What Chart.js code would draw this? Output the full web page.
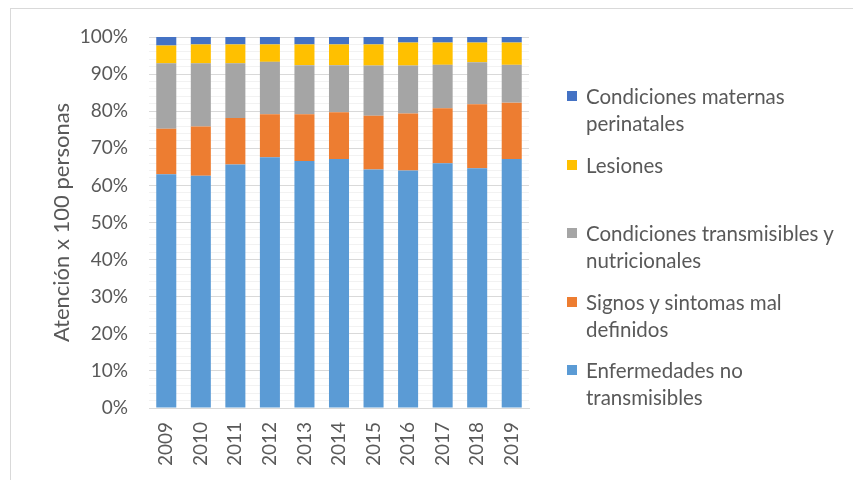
<!DOCTYPE html>
<html>
<head>
<meta charset="utf-8">
<script src="https://cdn.jsdelivr.net/npm/chart.js@4"></script>
<style>
  body { margin: 0; background: #fff; }
  #wrap { position: relative; width: 853px; height: 480px; overflow: hidden; }
  #frame { position: absolute; left: 10px; top: 8px; width: 860px; height: 480px; border: 1px solid #d9d9d9; box-sizing: border-box; }
  #legend { position: absolute; left: 567px; top: 83px; font-family: Lato, sans-serif; font-size: 20.5px; color: #595959; }
  .item { position: relative; height: 68.5px; padding-left: 19px; line-height: 27px; }
  .box { position: absolute; left: 0; top: 8px; width: 10px; height: 10px; }
</style>
</head>
<body>
<div id="wrap">
  <div id="frame"></div>
  <canvas id="chart" width="853" height="480"></canvas>
  <div id="legend"></div>
</div>
<script>
// años
const years = ["2009", "2010", "2011", "2012", "2013", "2014", "2015", "2016", "2017", "2018", "2019"];

// % de atenciones por grupo
const noTransmisibles = [63.0, 62.6, 65.6, 67.6, 66.6, 67.1, 64.3, 64.0, 66.0, 64.6, 67.1];
const signosSintomas  = [12.3, 13.3, 12.6, 11.6, 12.6, 12.6, 14.5, 15.4, 14.8, 17.3, 15.2];
const transmisibles   = [17.6, 17.0, 14.7, 14.1, 13.2, 12.7, 13.5, 12.9, 11.7, 11.3, 10.2];
const lesiones        = [4.8, 5.1, 5.1, 4.7, 5.6, 5.6, 5.7, 6.2, 6.0, 5.3, 6.0];
const maternas        = [2.3, 2.0, 2.0, 2.0, 2.0, 2.0, 2.0, 1.5, 1.5, 1.5, 1.5];

const yTicks = [0, 10, 20, 30, 40, 50, 60, 70, 80, 90, 100];

const font = "Lato, sans-serif";

const datasets = [
  { label: "Enfermedades no transmisibles", lines: ["Enfermedades no", "transmisibles"], data: noTransmisibles, backgroundColor: "#5b9bd5" },
  { label: "Signos y sintomas mal definidos", lines: ["Signos y sintomas mal", "definidos"], data: signosSintomas, backgroundColor: "#ed7d31" },
  { label: "Condiciones transmisibles y nutricionales", lines: ["Condiciones transmisibles y", "nutricionales"], data: transmisibles, backgroundColor: "#a5a5a5" },
  { label: "Lesiones", lines: ["Lesiones"], data: lesiones, backgroundColor: "#ffc000" },
  { label: "Condiciones maternas perinatales", lines: ["Condiciones maternas", "perinatales"], data: maternas, backgroundColor: "#4472c4" }
];

const chart = new Chart(document.getElementById("chart"), {
  type: "bar",
  data: {
    labels: years,
    datasets: datasets.map(d => ({
      label: d.label,
      data: d.data,
      backgroundColor: d.backgroundColor,
      borderWidth: 0,
      barPercentage: 0.58,
      categoryPercentage: 1
    }))
  },
  options: {
    responsive: false,
    animation: false,
    layout: { padding: { left: 49, top: 37, right: 324, bottom: 0 } },
    plugins: { legend: { display: false }, tooltip: { enabled: false } },
    scales: {
      x: {
        stacked: true,
        grid: { display: false },
        border: { color: "#d9d9d9" },
        ticks: { color: "#595959", font: { family: font, size: 19 }, minRotation: 90, maxRotation: 90, padding: 6 },
        afterFit: s => { s.height = 72; }
      },
      y: {
        stacked: true,
        min: 0,
        max: 100,
        border: { display: false },
        afterFit: s => { s.width = 100; },
        afterBuildTicks: s => {
          // líneas menores cada 2%
          const t = [];
          for (let v = 0; v <= 100; v += 2) t.push({ value: v });
          s.ticks = t;
        },
        grid: {
          drawTicks: false,
          color: c => yTicks.includes(c.tick.value) ? "#d9d9d9" : "#f2f2f2"
        },
        ticks: {
          autoSkip: false,
          padding: 21,
          color: "#595959",
          font: { family: font, size: 19 },
          callback: v => yTicks.includes(v) ? v + "%" : ""
        },
        title: {
          display: true,
          text: "Atención x 100 personas",
          color: "#595959",
          font: { family: font, size: 22, weight: "normal" },
          padding: { top: 0, bottom: 0 }
        }
      }
    }
  }
});

// leyenda a la derecha, orden invertido como en Excel
const legend = document.getElementById("legend");
datasets.slice().reverse().forEach(d => {
  const item = document.createElement("div");
  item.className = "item";
  item.innerHTML = `<span class="box" style="background:${d.backgroundColor}"></span>${d.lines.join("<br>")}`;
  legend.appendChild(item);
});
</script>
</body>
</html>
